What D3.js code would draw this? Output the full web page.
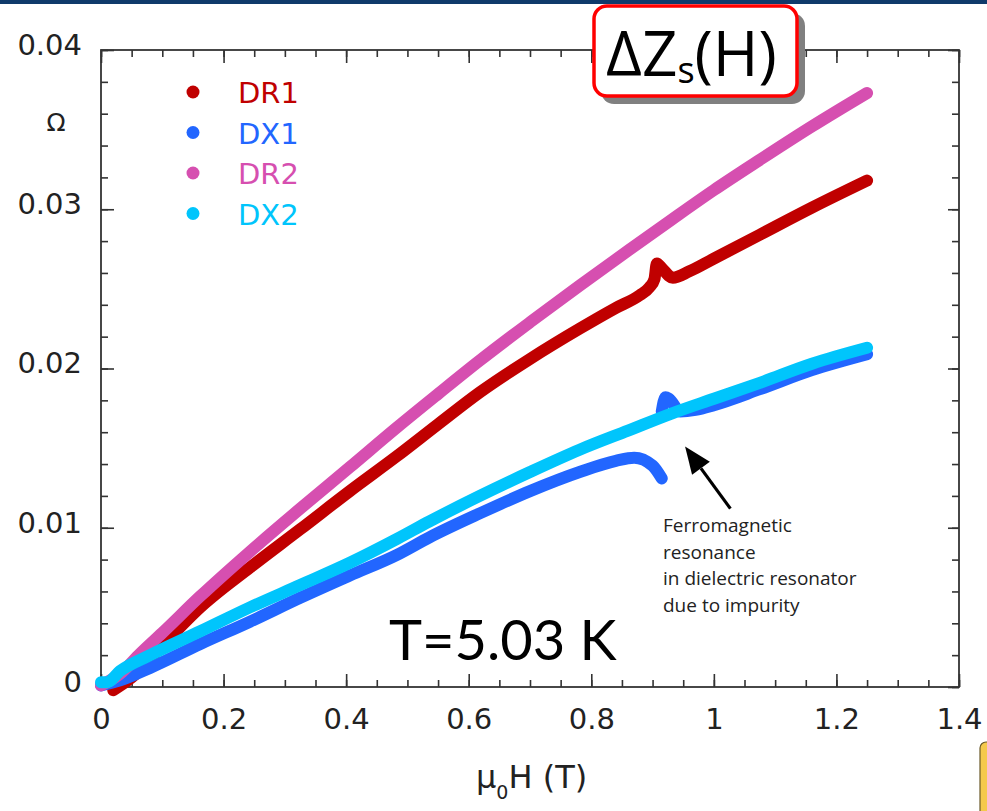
<!DOCTYPE html>
<html>
<head>
<meta charset="utf-8">
<script src="https://cdn.jsdelivr.net/npm/d3@7"></script>
<style>
  body { margin: 0; background: #fff; }
  svg { display: block; }
</style>
</head>
<body>
<div id="chart"></div>
<script>
// series: field H (T) and surface impedance change (Ohm)
var dr1H = [0.02, 0.05, 0.1, 0.162, 0.243, 0.325, 0.406, 0.483, 0.55, 0.618, 0.7, 0.781, 0.84, 0.879, 0.895, 0.903, 0.907, 0.915, 0.933, 0.96, 1.0, 1.075, 1.16, 1.25];
var dr1Z = [-0.0002, 0.0006, 0.0026, 0.0050, 0.0075, 0.0099, 0.0123, 0.0145, 0.0165, 0.0185, 0.0206, 0.0225, 0.0238, 0.0246, 0.0251, 0.0256, 0.0266, 0.0263, 0.0257, 0.0261, 0.0269, 0.0284, 0.0301, 0.0318];

var dx1H = [0, 0.03, 0.08, 0.162, 0.243, 0.325, 0.406, 0.483, 0.536, 0.618, 0.7, 0.781, 0.84, 0.87, 0.9, 0.915, null, 0.915, 0.921, 0.927, 0.945, 0.97, 1.0, 1.075, 1.16, 1.25];
var dx1Z = [0.0001, 0.0004, 0.0012, 0.0027, 0.0041, 0.0056, 0.0070, 0.0083, 0.0094, 0.0109, 0.0123, 0.0135, 0.0142, 0.0144, 0.0139, 0.0131, null, 0.0173, 0.0182, 0.0181, 0.0173, 0.0174, 0.0177, 0.0187, 0.0199, 0.0209];

var dr2H = [0, 0.03, 0.064, 0.1, 0.162, 0.243, 0.325, 0.406, 0.483, 0.55, 0.618, 0.7, 0.781, 0.86, 0.933, 1.0, 1.075, 1.16, 1.25];
var dr2Z = [0.0001, 0.0008, 0.0021, 0.0034, 0.0057, 0.0085, 0.0112, 0.0138, 0.0163, 0.0184, 0.0205, 0.0229, 0.0252, 0.0274, 0.0294, 0.0312, 0.0331, 0.0352, 0.0373];

var dx2H = [0, 0.01, 0.031, 0.08, 0.162, 0.243, 0.325, 0.406, 0.483, 0.536, 0.618, 0.7, 0.781, 0.86, 0.933, 1.0, 1.075, 1.16, 1.25];
var dx2Z = [0.0003, 0.0003, 0.0010, 0.0020, 0.0035, 0.0050, 0.0064, 0.0078, 0.0093, 0.0104, 0.0120, 0.0135, 0.0149, 0.0161, 0.0172, 0.0181, 0.0191, 0.0203, 0.0213];

var seriesNames = ["DR1", "DX1", "DR2", "DX2"];
var seriesColors = ["#c00000", "#2266ff", "#d64fb0", "#00c5fc"];

var xTicks = [0, 0.2, 0.4, 0.6, 0.8, 1, 1.2, 1.4];
var yTicks = [0, 0.01, 0.02, 0.03, 0.04];
var xMinor = d3.range(0, 1.4001, 0.05);
var yMinor = d3.range(0, 0.04001, 0.002);

var noteLines = ["Ferromagnetic", "resonance", "in dielectric resonator", "due to impurity"];
var arrowFrom = [1.027, 0.0112], arrowTo = [0.953, 0.0151];

var W = 987, H = 811;
var svg = d3.select("#chart").append("svg").attr("width", W).attr("height", H);

// slide banner strip at the top
svg.append("rect").attr("x", 0).attr("y", 0).attr("width", W).attr("height", 4).attr("fill", "#0f3a6b");

var x = d3.scaleLinear().domain([0, 1.4]).range([101, 959]);
var y = d3.scaleLinear().domain([0, 0.04]).range([687, 50]);
var fmt = d3.format("~g");
var axisColor = "#333";
var tickFont = "DejaVu Sans, sans-serif";

function styleAxis(g) {
    g.select(".domain").remove();
    g.selectAll(".tick line").attr("stroke", axisColor).attr("stroke-width", 1.6);
    g.selectAll(".tick text").attr("fill", "#222").style("font-family", tickFont).style("font-size", "29px");
}

// minor ticks on all four sides (inward)
svg.append("g").attr("transform", "translate(0,687)")
    .call(d3.axisBottom(x).tickValues(xMinor).tickSize(-7).tickFormat("")).call(styleAxis);
svg.append("g").attr("transform", "translate(0,50)")
    .call(d3.axisTop(x).tickValues(xMinor).tickSize(-7).tickFormat("")).call(styleAxis);
svg.append("g").attr("transform", "translate(101,0)")
    .call(d3.axisLeft(y).tickValues(yMinor).tickSize(-7).tickFormat("")).call(styleAxis);
svg.append("g").attr("transform", "translate(959,0)")
    .call(d3.axisRight(y).tickValues(yMinor).tickSize(-7).tickFormat("")).call(styleAxis);

// major ticks + labels
svg.append("g").attr("transform", "translate(0,687)")
    .call(d3.axisBottom(x).tickValues(xTicks).tickSize(-13).tickPadding(21).tickFormat(fmt)).call(styleAxis);
svg.append("g").attr("transform", "translate(0,50)")
    .call(d3.axisTop(x).tickValues(xTicks).tickSize(-13).tickFormat("")).call(styleAxis);
var yAxisG = svg.append("g").attr("transform", "translate(101,0)")
    .call(d3.axisLeft(y).tickValues(yTicks).tickSize(-13).tickPadding(19).tickFormat(fmt)).call(styleAxis);
yAxisG.selectAll(".tick text").attr("dy", "0.15em");
svg.append("g").attr("transform", "translate(959,0)")
    .call(d3.axisRight(y).tickValues(yTicks).tickSize(-11).tickFormat("")).call(styleAxis);

// frame
svg.append("rect").attr("x", 101).attr("y", 50).attr("width", 858).attr("height", 637)
    .attr("fill", "none").attr("stroke", axisColor).attr("stroke-width", 1.8);

// data
var line = d3.line()
    .defined(function (d) { return d[0] !== null; })
    .curve(d3.curveMonotoneX)
    .x(function (d) { return x(d[0]); })
    .y(function (d) { return y(d[1]); });

function zip(a, b) { return a.map(function (v, i) { return [v, b[i]]; }); }
var series = [zip(dr1H, dr1Z), zip(dx1H, dx1Z), zip(dr2H, dr2Z), zip(dx2H, dx2Z)];

series.forEach(function (pts, i) {
    svg.append("path")
        .datum(pts)
        .attr("d", line)
        .attr("fill", "none")
        .attr("stroke", seriesColors[i])
        .attr("stroke-width", 12)
        .attr("stroke-linecap", "round")
        .attr("stroke-linejoin", "round");
});

// legend
var legend = svg.append("g");
seriesNames.forEach(function (name, i) {
    var ly = 92 + i * 40.5;
    legend.append("circle").attr("cx", 193).attr("cy", ly).attr("r", 6.5).attr("fill", seriesColors[i]);
    legend.append("text").attr("x", 238).attr("y", ly + 11)
        .attr("fill", seriesColors[i])
        .style("font-family", tickFont).style("font-size", "29px")
        .text(name);
});

// unit label
svg.append("text").attr("x", 56).attr("y", 131).attr("text-anchor", "middle")
    .style("font-family", tickFont).style("font-size", "25px").attr("fill", "#222").text("Ω");

// x axis title  μ0H (T)
var xt = svg.append("text").attr("x", 476).attr("y", 788)
    .style("font-family", tickFont).style("font-size", "32px").attr("fill", "#222");
xt.append("tspan").text("μ");
xt.append("tspan").attr("dy", 11).style("font-size", "19px").text("0");
xt.append("tspan").attr("dy", -11).text("H (T)");

// annotation arrow
var ax0 = x(arrowFrom[0]), ay0 = y(arrowFrom[1]), ax1 = x(arrowTo[0]), ay1 = y(arrowTo[1]);
var ang = Math.atan2(ay1 - ay0, ax1 - ax0);
var headLen = 27, headW = 11;
var bx = ax1 - headLen * Math.cos(ang), by = ay1 - headLen * Math.sin(ang);
svg.append("line").attr("x1", ax0).attr("y1", ay0).attr("x2", bx).attr("y2", by)
    .attr("stroke", "#000").attr("stroke-width", 3.2);
svg.append("polygon")
    .attr("points", [
        [ax1, ay1],
        [bx + headW * Math.sin(ang), by - headW * Math.cos(ang)],
        [bx - headW * Math.sin(ang), by + headW * Math.cos(ang)]
    ].map(function (p) { return p.join(","); }).join(" "))
    .attr("fill", "#000");

var note = svg.append("text").attr("x", 663).attr("y", 532)
    .style("font-family", "Open Sans, sans-serif").style("font-size", "19px").attr("fill", "#222");
noteLines.forEach(function (t, i) {
    note.append("tspan").attr("x", 663).attr("dy", i === 0 ? 0 : 26.7).text(t);
});

// temperature label
svg.append("text").attr("x", 389).attr("y", 660)
    .style("font-family", "Lato, sans-serif").style("font-size", "56px").attr("fill", "#000")
    .text("T=5.03 K");

// title box
svg.append("rect").attr("x", 601).attr("y", 13).attr("width", 204).attr("height", 91).attr("rx", 13)
    .attr("fill", "#808080");
svg.append("rect").attr("x", 594).attr("y", 6).attr("width", 203).attr("height", 90).attr("rx", 13)
    .attr("fill", "#fff").attr("stroke", "#ff0000").attr("stroke-width", 3.5);
var title = svg.append("text").attr("x", 606).attr("y", 76)
    .style("font-family", "Open Sans, sans-serif").style("font-size", "62px").attr("fill", "#000");
title.append("tspan").text("ΔZ");
title.append("tspan").attr("dy", 7).style("font-size", "36px").text("s");
title.append("tspan").attr("dy", -7).text("(H)");

// corner of a neighbouring slide element
svg.append("rect").attr("x", 980).attr("y", 742).attr("width", 30).attr("height", 90).attr("rx", 6)
    .attr("fill", "#f5c94c").attr("stroke", "#6a5a2a").attr("stroke-width", 1.2);
</script>
</body>
</html>
